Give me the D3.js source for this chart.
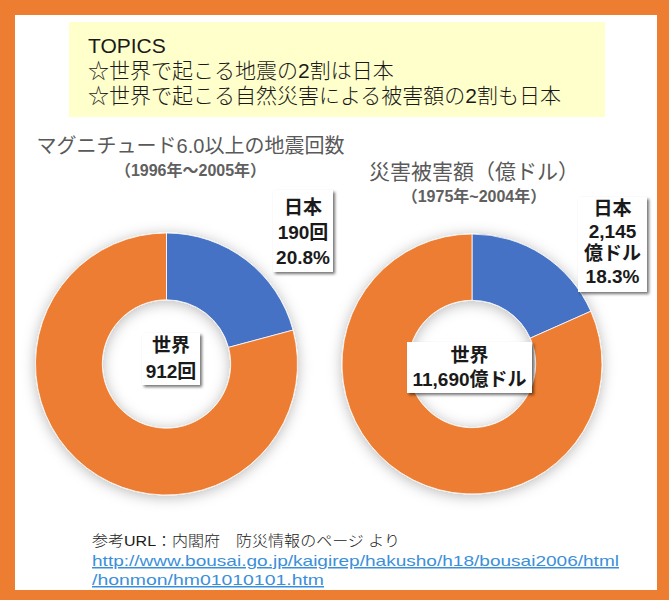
<!DOCTYPE html>
<html lang='ja'>

<head>
   <meta charset='UTF-8'>
   <title>地震回数と災害被害額</title>
   <script src='https://d3js.org/d3.v7.min.js'></script>
   <style>
      body {
         margin: 0;
         padding: 0;
         background: #fff;
      }

      svg {
         display: block;
         font-family: 'Liberation Sans', 'Noto Sans CJK JP', sans-serif;
      }
   </style>
</head>

<body>
   <div id='svg-container'></div>
   <script>
      // values
      const topicLines = ['TOPICS', '☆世界で起こる地震の2割は日本', '☆世界で起こる自然災害による被害額の2割も日本'];
      const sliceNames = ['日本', 'その他'];
      const quakeTotal = 912;   // 世界 (回)
      const quakeJapan = 190;   // 日本 (回)
      const damageTotal = 11690; // 世界 (億ドル)
      const damageJapan = 2145;  // 日本 (億ドル)
      const quakeTitle = ['マグニチュード6.0以上の地震回数', '（1996年～2005年）'];
      const damageTitle = ['災害被害額（億ドル）', '（1975年~2004年）'];
      const sourceLines = ['参考URL：内閣府　防災情報のページ より',
         'http://www.bousai.go.jp/kaigirep/hakusho/h18/bousai2006/html',
         '/honmon/hm01010101.htm'];

      const width = 669;
      const height = 600;
      const orange = '#ED7D31';
      const blue = '#4472C4';

      const canvas = d3.select('#svg-container').append('svg').attr('width', width).attr('height', height);
      const defs = canvas.append('defs');

      const glow = defs.append('filter').attr('id', 'glow').attr('x', '-20%').attr('y', '-20%').attr('width', '140%').attr('height', '140%');
      glow.append('feDropShadow').attr('dx', 0).attr('dy', 2).attr('stdDeviation', 7)
         .attr('flood-color', '#000').attr('flood-opacity', 0.28);

      const boxShadow = defs.append('filter').attr('id', 'box-shadow').attr('x', '-20%').attr('y', '-20%').attr('width', '140%').attr('height', '140%');
      boxShadow.append('feDropShadow').attr('dx', 2).attr('dy', 2).attr('stdDeviation', 1.5)
         .attr('flood-color', '#000').attr('flood-opacity', 0.55);

      // frame
      canvas.append('rect').attr('width', width).attr('height', height).attr('fill', orange);
      canvas.append('rect').attr('x', 15).attr('y', 15).attr('width', 642).attr('height', 575).attr('fill', '#fff');

      // topics box
      canvas.append('rect').attr('x', 69).attr('y', 22).attr('width', 536).attr('height', 95).attr('fill', '#FFFFCC');
      canvas.append('g').selectAll('text').data(topicLines).join('text')
         .attr('x', 88)
         .attr('y', (d, i) => 53 + i * 25)
         .attr('font-size', '21px')
         .attr('font-weight', 300)
         .attr('fill', '#1a1a1a')
         .text(d => d);

      const pie = d3.pie().sort(null).value(d => d.value);
      const colour = d3.scaleOrdinal().domain(sliceNames).range([blue, orange]);
      const pct = d3.format('.1%');
      const comma = d3.format(',');

      const drawDonut = (cx, cy, r, japan, total, titles, japanLines, japanBox, worldLines, worldBox) => {
         const g = canvas.append('g').attr('transform', `translate(${cx}, ${cy})`);
         const slices = [{ name: sliceNames[0], value: japan }, { name: sliceNames[1], value: total - japan }];
         const arc = d3.arc().innerRadius(r * 0.49).outerRadius(r);

         g.append('g').attr('filter', 'url(#glow)')
            .selectAll('path').data(pie(slices)).join('path')
            .attr('d', arc)
            .attr('fill', d => colour(d.data.name))
            .attr('stroke', '#fff')
            .attr('stroke-width', 0.8);

         // titles
         canvas.append('text').attr('x', cx + titles.dx).attr('y', titles.y)
            .attr('text-anchor', 'middle').attr('font-size', titles.size).attr('fill', '#595959')
            .text(titles.text[0]);
         canvas.append('text').attr('x', cx + titles.dx).attr('y', titles.y + 23)
            .attr('text-anchor', 'middle').attr('font-size', '16px').attr('font-weight', 700).attr('fill', '#606060')
            .text(titles.text[1]);

         const labelBox = (lines, box) => {
            const lg = canvas.append('g');
            lg.append('rect').attr('x', box.rect[0]).attr('y', box.rect[1]).attr('width', box.rect[2]).attr('height', box.rect[3])
               .attr('fill', '#fff').attr('filter', 'url(#box-shadow)');
            lg.selectAll('text').data(lines).join('text')
               .attr('x', box.rect[0] + box.rect[2] / 2)
               .attr('y', (d, i) => box.firstY + i * box.lineH)
               .attr('text-anchor', 'middle')
               .attr('font-size', '19px')
               .attr('font-weight', 700)
               .attr('fill', '#1a1a1a')
               .text(d => d);
         };
         labelBox(japanLines, japanBox);
         labelBox(worldLines, worldBox);
      };

      drawDonut(166.5, 364, 131, quakeJapan, quakeTotal,
         { text: quakeTitle, dx: 24, y: 153, size: '20px' },
         ['日本', `${quakeJapan}回`, pct(quakeJapan / quakeTotal)],
         { rect: [273, 190, 60, 82], lineH: 25, firstY: 214 },
         ['世界', `${quakeTotal}回`],
         { rect: [142, 333, 58, 52], lineH: 26, firstY: 352 });

      drawDonut(472, 364, 130, damageJapan, damageTotal,
         { text: damageTitle, dx: 2, y: 179, size: '21px' },
         ['日本', comma(damageJapan), '億ドル', pct(damageJapan / damageTotal)],
         { rect: [578, 197, 69, 95], lineH: 22.5, firstY: 215 },
         ['世界', `${comma(damageTotal)}億ドル`],
         { rect: [407, 342, 125, 51], lineH: 24, firstY: 362 });

      // source
      const src = canvas.append('g').attr('font-size', '15px').attr('font-weight', 300);
      src.append('text').attr('x', 92).attr('y', 546).attr('fill', '#1a1a1a')
         .attr('textLength', 308).attr('lengthAdjust', 'spacingAndGlyphs')
         .text(sourceLines[0]);
      src.append('text').attr('x', 92).attr('y', 566).attr('fill', '#3B8FD9')
         .attr('text-decoration', 'underline')
         .attr('textLength', 527).attr('lengthAdjust', 'spacingAndGlyphs')
         .text(sourceLines[1]);
      src.append('text').attr('x', 92).attr('y', 585).attr('fill', '#3B8FD9')
         .attr('text-decoration', 'underline')
         .attr('textLength', 232).attr('lengthAdjust', 'spacingAndGlyphs')
         .text(sourceLines[2]);
   </script>
</body>

</html>
